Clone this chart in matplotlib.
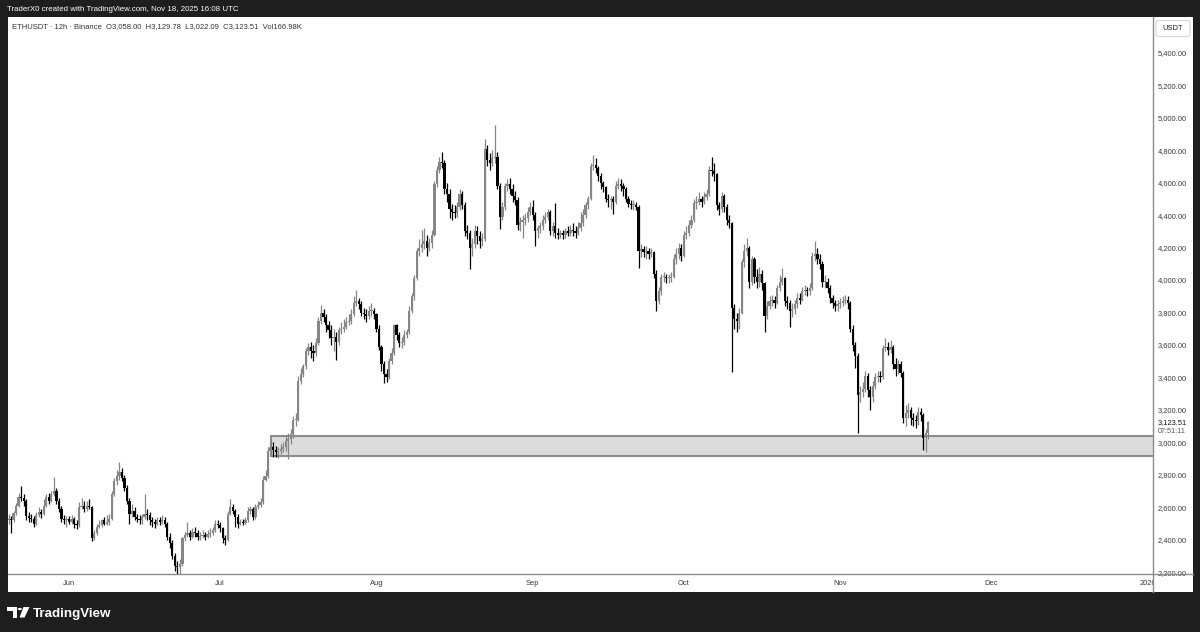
import matplotlib
matplotlib.use('Agg')
import matplotlib.pyplot as plt
import matplotlib.dates as mdates
from matplotlib.patches import Rectangle, Polygon, Circle, FancyBboxPatch
from matplotlib.lines import Line2D
from matplotlib.transforms import Bbox, TransformedBbox
import numpy as np
import pandas as pd

plt.rcParams['font.family'] = ['Liberation Sans', 'DejaVu Sans']

# ETHUSDT 12h candles, 2025-05-20 00:00 -> 2025-11-18 12:00 UTC (open = previous close)
first_open = 2525
start_time = '2025-05-20 00:00'

close_may = [2530, 2525, 2565, 2610, 2665, 2660, 2640, 2545, 2535, 2530,
             2500, 2555, 2570, 2560, 2610, 2665, 2640, 2680, 2700, 2640,
             2590, 2530, 2520, 2530]
high_may = [2560, 2545, 2580, 2625, 2690, 2730, 2680, 2650, 2570, 2560,
            2545, 2570, 2600, 2590, 2650, 2680, 2690, 2700, 2785, 2720,
            2660, 2610, 2550, 2545]
low_may = [2500, 2445, 2510, 2550, 2600, 2640, 2610, 2520, 2510, 2510,
           2480, 2490, 2540, 2535, 2550, 2600, 2620, 2630, 2670, 2620,
           2570, 2510, 2500, 2480]

close_jun = [2510, 2530, 2500, 2490, 2600, 2610, 2590, 2610, 2600, 2410,
             2440, 2480, 2490, 2520, 2500, 2510, 2530, 2680, 2760, 2790,
             2820, 2780, 2720, 2640, 2560, 2580, 2540, 2530, 2520, 2540,
             2560, 2550, 2520, 2510, 2500, 2520, 2510, 2520, 2500, 2420,
             2380, 2300, 2240, 2230, 2250, 2410, 2430, 2445, 2420, 2450,
             2440, 2420, 2425, 2430, 2420, 2435, 2440, 2460, 2500, 2490]
high_jun = [2545, 2550, 2540, 2520, 2630, 2660, 2640, 2640, 2650, 2610,
            2460, 2500, 2520, 2530, 2540, 2550, 2560, 2700, 2780, 2830,
            2880, 2840, 2800, 2740, 2660, 2620, 2600, 2560, 2550, 2560,
            2680, 2590, 2570, 2540, 2530, 2540, 2540, 2550, 2540, 2510,
            2440, 2400, 2320, 2270, 2280, 2420, 2450, 2510, 2460, 2470,
            2480, 2460, 2450, 2460, 2450, 2460, 2470, 2480, 2520, 2520]
low_jun = [2495, 2500, 2470, 2465, 2480, 2590, 2570, 2580, 2590, 2390,
           2400, 2430, 2470, 2480, 2490, 2490, 2490, 2520, 2670, 2740,
           2770, 2760, 2700, 2620, 2500, 2540, 2520, 2510, 2500, 2500,
           2530, 2520, 2490, 2480, 2470, 2490, 2490, 2500, 2480, 2400,
           2350, 2280, 2210, 2110, 2190, 2240, 2390, 2420, 2400, 2410,
           2420, 2400, 2400, 2410, 2400, 2410, 2420, 2430, 2450, 2470]

close_jul = [2470, 2410, 2400, 2560, 2600, 2580, 2540, 2500, 2510, 2505,
             2520, 2575, 2590, 2540, 2600, 2615, 2630, 2770, 2790, 2950,
             2970, 2955, 2940, 2945, 2960, 2970, 3010, 3020, 3050, 3140,
             3140, 3380, 3420, 3470, 3560, 3590, 3560, 3550, 3610, 3750,
             3800, 3770, 3720, 3690, 3640, 3650, 3620, 3690, 3700, 3710,
             3740, 3750, 3790, 3860, 3870, 3850, 3800, 3790, 3780, 3810,
             3810, 3790]
high_jul = [2510, 2480, 2430, 2580, 2650, 2620, 2590, 2560, 2530, 2530,
            2540, 2600, 2610, 2600, 2620, 2640, 2660, 2790, 2830, 2970,
            3000, 3000, 2980, 2970, 2990, 3000, 3040, 3060, 3080, 3160,
            3180, 3410, 3460, 3480, 3580, 3610, 3620, 3600, 3640, 3770,
            3845, 3820, 3790, 3750, 3720, 3700, 3680, 3710, 3740, 3760,
            3770, 3790, 3820, 3900, 3940, 3890, 3870, 3830, 3820, 3840,
            3860, 3830]
low_jul = [2450, 2380, 2370, 2390, 2550, 2560, 2480, 2470, 2490, 2490,
           2495, 2510, 2560, 2520, 2530, 2590, 2600, 2620, 2760, 2780,
           2920, 2910, 2910, 2905, 2930, 2940, 2950, 2900, 2990, 3030,
           3100, 3130, 3360, 3400, 3450, 3540, 3520, 3500, 3530, 3600,
           3730, 3740, 3680, 3640, 3600, 3560, 3505, 3600, 3670, 3680,
           3700, 3720, 3730, 3780, 3840, 3820, 3780, 3760, 3740, 3760,
           3780, 3760]

close_aug = [3700, 3590, 3480, 3420, 3400, 3500, 3550, 3720, 3660, 3610,
             3620, 3660, 3680, 3810, 3900, 4010, 4180, 4200, 4220, 4240,
             4200, 4230, 4280, 4590, 4680, 4730, 4720, 4560, 4530, 4440,
             4420, 4410, 4450, 4530, 4460, 4300, 4290, 4200, 4220, 4300,
             4270, 4240, 4250, 4810, 4740, 4720, 4750, 4760, 4580, 4390,
             4450, 4580, 4590, 4560, 4520, 4490, 4340, 4360, 4370, 4380,
             4420, 4450]
high_aug = [3800, 3720, 3600, 3500, 3450, 3520, 3580, 3730, 3730, 3680,
            3650, 3690, 3700, 3840, 3920, 4030, 4200, 4250, 4310, 4320,
            4280, 4260, 4310, 4610, 4700, 4760, 4790, 4740, 4600, 4560,
            4470, 4460, 4480, 4560, 4550, 4480, 4340, 4310, 4260, 4340,
            4330, 4300, 4290, 4870, 4830, 4780, 4800, 4955, 4790, 4600,
            4480, 4600, 4620, 4630, 4590, 4550, 4510, 4390, 4400, 4410,
            4450, 4480]
low_aug = [3680, 3570, 3440, 3365, 3370, 3390, 3480, 3540, 3630, 3590,
           3580, 3600, 3640, 3670, 3800, 3880, 4000, 4150, 4170, 4190,
           4150, 4180, 4200, 4270, 4570, 4660, 4690, 4530, 4480, 4380,
           4370, 4380, 4390, 4430, 4440, 4270, 4250, 4070, 4150, 4200,
           4220, 4200, 4210, 4240, 4700, 4680, 4700, 4720, 4560, 4315,
           4370, 4430, 4550, 4530, 4480, 4460, 4310, 4300, 4260, 4340,
           4360, 4400]

close_sep = [4400, 4300, 4320, 4330, 4370, 4390, 4420, 4300, 4330, 4290,
             4280, 4290, 4280, 4300, 4290, 4310, 4300, 4290, 4320, 4350,
             4400, 4460, 4500, 4700, 4710, 4690, 4640, 4600, 4570, 4500,
             4490, 4500, 4480, 4580, 4590, 4580, 4560, 4500, 4470, 4460,
             4460, 4450, 4180, 4190, 4170, 4180, 4160, 4170, 4040, 3870,
             3930, 4020, 4020, 4010, 4010, 4020, 4130, 4160, 4200, 4150]
high_sep = [4490, 4420, 4340, 4360, 4400, 4420, 4440, 4430, 4360, 4475,
            4320, 4310, 4310, 4320, 4330, 4340, 4350, 4330, 4360, 4420,
            4440, 4480, 4520, 4720, 4770, 4750, 4700, 4660, 4610, 4580,
            4530, 4520, 4520, 4610, 4630, 4620, 4600, 4570, 4520, 4490,
            4490, 4480, 4460, 4220, 4210, 4210, 4200, 4200, 4180, 4060,
            3960, 4040, 4050, 4040, 4040, 4050, 4160, 4200, 4230, 4220]
low_sep = [4370, 4210, 4260, 4290, 4310, 4350, 4370, 4280, 4270, 4260,
           4250, 4260, 4250, 4260, 4270, 4270, 4270, 4260, 4280, 4300,
           4330, 4380, 4440, 4490, 4680, 4660, 4610, 4560, 4540, 4480,
           4450, 4440, 4405, 4470, 4560, 4550, 4520, 4480, 4450, 4440,
           4430, 4430, 4075, 4140, 4140, 4130, 4130, 4140, 4010, 3810,
           3850, 3910, 3990, 3980, 3980, 3990, 4010, 4100, 4130, 4120]

close_oct = [4280, 4290, 4340, 4370, 4475, 4480, 4500, 4480, 4510, 4530,
             4680, 4670, 4650, 4460, 4440, 4520, 4450, 4370, 4350, 3830,
             3760, 3750, 3800, 4110, 4180, 4200, 3990, 4130, 4020, 3990,
             4040, 3980, 3780, 3840, 3870, 3880, 3860, 3950, 3990, 4010,
             3870, 3860, 3810, 3820, 3850, 3890, 3880, 3930, 3940, 3930,
             3950, 4150, 4160, 4130, 4100, 3990, 3990, 3950, 3890, 3860,
             3840, 3850]
high_oct = [4300, 4330, 4370, 4400, 4500, 4520, 4540, 4520, 4540, 4560,
            4700, 4755, 4720, 4660, 4480, 4540, 4530, 4470, 4400, 4360,
            3850, 3800, 3830, 4130, 4220, 4260, 4210, 4150, 4140, 4070,
            4080, 4060, 3990, 3870, 3900, 3910, 3900, 3970, 4030, 4075,
            4020, 3900, 3880, 3860, 3880, 3920, 3920, 3960, 3970, 3960,
            3980, 4170, 4240, 4200, 4160, 4120, 4030, 4010, 3970, 3910,
            3880, 3880]
low_oct = [4140, 4250, 4270, 4320, 4360, 4440, 4460, 4450, 4470, 4490,
           4520, 4640, 4610, 4430, 4400, 4420, 4420, 4340, 4320, 3435,
           3700, 3680, 3700, 3790, 4080, 4150, 3950, 3970, 3980, 3950,
           3960, 3940, 3680, 3760, 3820, 3840, 3830, 3850, 3930, 3970,
           3840, 3820, 3710, 3770, 3790, 3830, 3850, 3870, 3910, 3900,
           3910, 3940, 4120, 4100, 4070, 3960, 3950, 3920, 3860, 3830,
           3810, 3810]

close_nov = [3860, 3870, 3880, 3860, 3700, 3600, 3530, 3290, 3310, 3330,
             3410, 3320, 3280, 3350, 3400, 3410, 3400, 3580, 3590, 3570,
             3590, 3480, 3450, 3480, 3430, 3150, 3180, 3200, 3150, 3140,
             3130, 3190, 3170, 3030, 3058, 3123.51]
high_nov = [3890, 3900, 3910, 3900, 3870, 3720, 3620, 3550, 3350, 3370,
            3440, 3430, 3350, 3380, 3430, 3440, 3440, 3600, 3645, 3620,
            3630, 3600, 3520, 3510, 3500, 3440, 3230, 3240, 3220, 3180,
            3170, 3220, 3210, 3180, 3080, 3129.78]
low_nov = [3830, 3840, 3850, 3820, 3680, 3560, 3460, 3060, 3250, 3280,
           3310, 3280, 3200, 3250, 3330, 3370, 3370, 3390, 3560, 3540,
           3550, 3450, 3410, 3420, 3400, 3120, 3100, 3150, 3110, 3100,
           3090, 3110, 3130, 2955, 2943, 3022.09]

# support zone drawn on the chart
zone_start = '2025-07-11 04:00'
zone_top = 3041
zone_bottom = 2914

price_ticks = [2200, 2400, 2600, 2800, 3000, 3200, 3400, 3600, 3800,
               4000, 4200, 4400, 4600, 4800, 5000, 5200, 5400]
month_ticks = ['2025-06-01', '2025-07-01', '2025-08-01', '2025-09-01',
               '2025-10-01', '2025-11-01', '2025-12-01', '2026-01-01']
month_labels = ['Jun', 'Jul', 'Aug', 'Sep', 'Oct', 'Nov', 'Dec', '2026']

header = 'TraderX0 created with TradingView.com, Nov 18, 2025 16:08 UTC'
legend = ('ETHUSDT \u00b7 12h \u00b7 Binance  O3,058.00  H3,129.78  '
          'L3,022.09  C3,123.51  Vol166.98K')
countdown = '07:51:11'

# ---------------------------------------------------------------------------
close = np.array(close_may + close_jun + close_jul + close_aug + close_sep + close_oct + close_nov, float)
high = np.array(high_may + high_jun + high_jul + high_aug + high_sep + high_oct + high_nov, float)
low = np.array(low_may + low_jun + low_jul + low_aug + low_sep + low_oct + low_nov, float)
assert len(close) == len(high) == len(low) == 366, (len(close), len(high), len(low))
opens = np.concatenate([[first_open], close[:-1]])
times = pd.date_range(start_time, periods=len(close), freq='12h')
x = mdates.date2num(times)

UP, DOWN = '#868686', '#000000'
BG_DARK = '#1e1e1e'
TXT = '#3a3a3a'

W, H = 1200, 632
def fx(px):
    return px / W
def fy(py):
    return 1 - py / H

fig = plt.figure(figsize=(12, 6.32), dpi=100, facecolor=BG_DARK)
fig.patches.append(Rectangle((fx(8), fy(592)), fx(1193) - fx(8), fy(17) - fy(592),
                             transform=fig.transFigure, facecolor='white',
                             edgecolor='none', zorder=-10))

ax = fig.add_axes([fx(8), fy(574), fx(1153) - fx(8), fy(17) - fy(574)])
ax.set_zorder(2)
ax.set_facecolor('white')

# candles
up = close >= opens
cols = np.where(up, UP, DOWN)
ax.vlines(x, low, high, colors=cols, linewidth=0.9, zorder=3)
body = np.maximum(np.abs(close - opens), 6)
ax.bar(x, body, bottom=np.minimum(opens, close), width=0.44, color=cols,
       linewidth=0, zorder=4)

# zone
zx = mdates.date2num(pd.Timestamp(zone_start))
ax.add_patch(Rectangle((zx, zone_bottom), 400, zone_top - zone_bottom,
                       facecolor='#dcdcdc', edgecolor='#8c8c8c', linewidth=1.5,
                       zorder=2))

ax.set_xlim(mdates.date2num(pd.Timestamp('2025-05-19 21:30')),
            mdates.date2num(pd.Timestamp('2026-01-02 02:00')))
ax.set_ylim(2189.5, 5620)

for s in ['top', 'left']:
    ax.spines[s].set_visible(False)
for s in ['right', 'bottom']:
    ax.spines[s].set_color('#8c8c8c')
    ax.spines[s].set_linewidth(1)

ax.yaxis.tick_right()
ax.set_yticks(price_ticks)
ax.set_yticklabels([f'{p:,.2f}' for p in price_ticks])
ax.tick_params(axis='y', length=0, pad=3.6, labelsize=5.4, labelcolor=TXT)

ax.set_xticks(mdates.date2num(pd.to_datetime(month_ticks)))
ax.set_xticklabels(month_labels)
ax.tick_params(axis='x', length=0, pad=4, labelsize=5.4, labelcolor=TXT)
clip = TransformedBbox(Bbox([[0, 0], [fx(1152.5), 1]]), fig.transFigure)
for lbl in ax.get_xticklabels():
    lbl.set_clip_on(True)
    lbl.set_clip_box(clip)

# last price + countdown on the price scale
ax.annotate(f'{close[-1]:,.2f}', xy=(1, close[-1]), xycoords=('axes fraction', 'data'),
            xytext=(3.6, 0), textcoords='offset points', ha='left', va='center',
            fontsize=5.4, color='#111111', annotation_clip=False)
ax.annotate(countdown, xy=(1, close[-1]), xycoords=('axes fraction', 'data'),
            xytext=(3.6, -6.4), textcoords='offset points', ha='left', va='center',
            fontsize=5.2, color='#555555', annotation_clip=False)

# panel separators
fig.add_artist(Line2D([fx(1153), fx(1193)], [fy(574), fy(574)], color='#8c8c8c',
                      linewidth=1, transform=fig.transFigure, zorder=5))
fig.add_artist(Line2D([fx(1153), fx(1153)], [fy(574), fy(592)], color='#8c8c8c',
                      linewidth=1, transform=fig.transFigure, zorder=5))

# currency box
fig.patches.append(FancyBboxPatch((fx(1156), fy(36.5)), fx(34), 16 / H,
                                  boxstyle='round,pad=0,rounding_size=0.003',
                                  transform=fig.transFigure, facecolor='white',
                                  edgecolor='#d6d6d6', linewidth=0.8, zorder=5))
fig.text(fx(1173), fy(28.7), 'USDT', ha='center', va='center', fontsize=5.4,
         color='#222222', zorder=6)

# header / legend
fig.text(fx(7), fy(9.5), header, ha='left', va='center', fontsize=5.7, color='white')
fig.text(fx(12), fy(27), legend, ha='left', va='center', fontsize=5.5, color='#333333',
         zorder=6)

# TradingView footer
fig.patches.append(Polygon([(fx(7), fy(607)), (fx(16.5), fy(607)), (fx(16.5), fy(617.5)),
                            (fx(12.5), fy(617.5)), (fx(12.5), fy(611)), (fx(7), fy(611))],
                           closed=True, transform=fig.transFigure, facecolor='white',
                           edgecolor='none'))
fig.patches.append(Circle((fx(19.8), fy(609)), 2.1 / W, transform=fig.transFigure,
                          facecolor='white', edgecolor='none'))
fig.patches.append(Polygon([(fx(23.5), fy(607)), (fx(29.5), fy(607)), (fx(24.5), fy(617.5)),
                            (fx(19.5), fy(617.5))],
                           closed=True, transform=fig.transFigure, facecolor='white',
                           edgecolor='none'))
fig.text(fx(33), fy(616.5), 'TradingView', ha='left', va='baseline', fontsize=9.6,
         fontweight='bold', color='white')

fig.savefig('out.png', dpi=100, facecolor=fig.get_facecolor())
